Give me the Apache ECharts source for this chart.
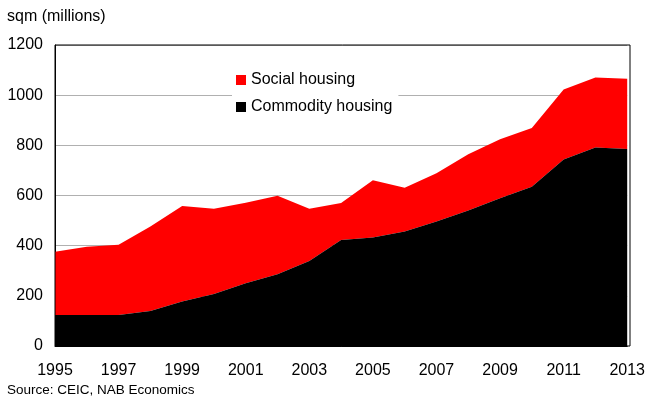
<!DOCTYPE html>
<html><head><meta charset="utf-8">
<script src="https://cdn.jsdelivr.net/npm/echarts@6/dist/echarts.min.js"></script>
<style>html,body{margin:0;padding:0;background:#fff}#c{width:648px;height:398px}</style>
</head><body><div id="c"></div>
<script>
var years = ['1995','1996','1997','1998','1999','2000','2001','2002','2003','2004','2005','2006','2007','2008','2009','2010','2011','2012','2013'];
var commodity = [124,124,124,140,177,207,250,286,339,423,433,456,496,540,589,635,744,791,785];
var social = [252,272,280,336,381,340,321,313,208,147,228,175,193,224,235,234,279,279,280];
var yTicks = [0,200,400,600,800,1000,1200];
var font = 'Liberation Sans, Arial, sans-serif';
var chart = echarts.init(document.getElementById('c'));
chart.setOption({
  animation:false,
  textStyle:{fontFamily:font},
  graphic:[
    {type:'text',left:7,top:9,style:{text:'sqm (millions)',font:'16px '+font,fill:'#000'}},
    {type:'text',left:7,top:383,style:{text:'Source: CEIC, NAB Economics',font:'13.5px '+font,fill:'#000'}},
    {type:'rect',shape:{x:55,y:45,width:575,height:301},style:{fill:'none',stroke:'#000',lineWidth:1},z:100}
  ],
  legend:{
    orient:'vertical',left:232,top:68,itemWidth:10,itemHeight:10,itemGap:11,
    backgroundColor:'#fff',padding:[4,6,4,4],itemStyle:{borderWidth:0},
    textStyle:{fontSize:16,color:'#000',fontFamily:font},
    data:[{name:'Social housing',icon:'rect'},{name:'Commodity housing',icon:'rect'}]
  },
  grid:{left:55,right:18,top:45,bottom:52},
  xAxis:{type:'category',data:years,boundaryGap:false,
    axisLine:{show:true,lineStyle:{color:'#000'}},axisTick:{show:false},
    axisLabel:{interval:1,fontSize:16,color:'#000',margin:17,fontFamily:font},
    splitLine:{show:false}},
  yAxis:{type:'value',min:yTicks[0],max:yTicks[yTicks.length-1],interval:200,
    axisLine:{show:true,lineStyle:{color:'#000'}},axisTick:{show:false},
    axisLabel:{fontSize:16,color:'#000',margin:12,fontFamily:font,formatter:function(v){return String(v);}},
    splitLine:{show:true,lineStyle:{color:'#b0b0b0',width:1}}},
  series:[
    {name:'Commodity housing',type:'line',stack:'t',data:commodity,symbol:'none',
      lineStyle:{width:0},itemStyle:{color:'#000'},areaStyle:{color:'#000',opacity:1},z:3},
    {name:'Social housing',type:'line',stack:'t',data:social,symbol:'none',
      lineStyle:{width:0},itemStyle:{color:'#ff0000'},areaStyle:{color:'#ff0000',opacity:1},z:2}
  ]
});
</script></body></html>
